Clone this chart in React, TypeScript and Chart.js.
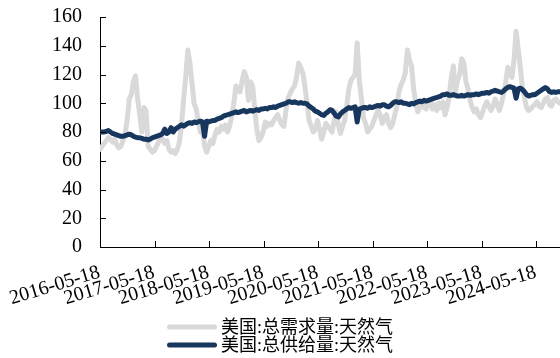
import React, { useEffect, useRef } from "react";
import { Chart, registerables } from "chart.js";

Chart.register(...registerables);

// ---- data ----
const START_DATE = "2016-05-18";
const STEP_DAYS = 14;

const tickLabels = [
  "2016-05-18", "2017-05-18", "2018-05-18", "2019-05-18", "2020-05-18",
  "2021-05-18", "2022-05-18", "2023-05-18", "2024-05-18",
];

const seriesNames = ["美国:总需求量:天然气", "美国:总供给量:天然气"];

// demand, biweekly from 2016-05-18
const demand2016 = [68, 70, 72, 74, 76, 75, 73, 75, 71, 69, 70, 74, 79, 88, 103, 106, 115, 119, 103, 92, 80, 97, 95, 70, 68, 66];
const demand2017 = [67, 70, 73, 76, 75, 72, 74, 68, 66, 67, 65, 68, 73, 85, 103, 118, 137, 128, 114, 100, 96, 88, 80, 83, 70, 66];
const demand2018 = [70, 74, 72, 78, 82, 80, 84, 82, 85, 80, 84, 91, 100, 112, 110, 108, 116, 122, 118, 102, 115, 112, 96, 82, 74, 76];
const demand2019 = [80, 87, 84, 86, 85, 88, 90, 92, 88, 85, 84, 96, 104, 107, 110, 112, 118, 128, 125, 121, 112, 100, 88, 84, 80, 82];
const demand2020 = [88, 82, 75, 80, 86, 84, 82, 80, 88, 94, 85, 79, 84, 88, 98, 110, 116, 118, 120, 142, 116, 104, 90, 86, 80, 82];
const demand2021 = [84, 88, 92, 95, 92, 86, 90, 92, 86, 83, 86, 92, 98, 108, 113, 116, 121, 137, 130, 126, 110, 100, 94, 97, 101, 97];
const demand2022 = [96, 100, 101, 96, 99, 95, 100, 97, 101, 92, 97, 105, 118, 126, 108, 116, 120, 131, 128, 115, 110, 102, 97, 94, 96, 92];
const demand2023 = [90, 94, 98, 101, 98, 95, 98, 103, 99, 95, 100, 106, 114, 125, 122, 118, 130, 150, 138, 125, 111, 104, 97, 95, 96, 98];
const demand2024 = [99, 101, 98, 97, 100, 103, 104, 99, 98, 102, 103, 101, 100];

// supply, biweekly from 2016-05-18
const supply2016 = [80, 80, 80, 80.5, 81, 80, 79, 78.5, 78, 77.5, 77, 77, 77.5, 78, 78.5, 78, 77, 76.5, 76, 76, 75.5, 75, 75, 74.5, 75, 76];
const supply2017 = [76.5, 77, 77.5, 78, 79, 82, 79, 80, 83, 80, 82, 83, 84, 85, 84, 85, 86, 86.5, 86, 87, 86.5, 87, 87.5, 87, 77, 87.5];
const supply2018 = [87, 87.5, 88, 88, 89, 89.5, 90, 91, 91.5, 92, 92.5, 93, 93.5, 94, 93.5, 94, 94.5, 95, 94, 94.5, 95, 94.5, 95, 95.5, 95, 96];
const supply2019 = [96, 96.5, 96, 97, 97, 97.5, 97, 98, 98.5, 99, 99.5, 100, 101, 101, 100.5, 101, 100.5, 100, 100.5, 100, 100, 99.5, 98, 97, 96, 94.5];
const supply2020 = [94, 93, 92, 91.5, 93, 94, 95.5, 95, 93, 91, 90.5, 92.5, 94, 95, 96, 97, 96.5, 97, 97.5, 87, 96, 96.5, 97, 97, 96.5, 97.5];
const supply2021 = [97, 97.5, 98, 98.5, 98, 99, 99, 98, 97.5, 98.5, 100, 101, 101, 100.5, 101, 100, 100, 99.5, 99, 100, 99.5, 100.5, 101, 101.5, 101, 102];
const supply2022 = [101.5, 102, 102.5, 103, 103.5, 104, 104.5, 105, 106, 106, 106.5, 105.5, 105.5, 106, 105.5, 105, 105, 105.5, 105, 105.5, 106, 105.5, 106, 106, 106.5, 106];
const supply2023 = [106.5, 107, 107, 107.5, 107, 108, 108.5, 109, 108.5, 108, 107.5, 108.5, 110, 111, 111.5, 111, 110.5, 103.5, 110, 110.5, 109.5, 108, 106, 105, 105.5, 106];
const supply2024 = [106, 107, 108, 109, 110, 111, 110, 108, 107.5, 108, 107.5, 108, 108];

const demand = [
  ...demand2016, ...demand2017, ...demand2018, ...demand2019, ...demand2020,
  ...demand2021, ...demand2022, ...demand2023, ...demand2024,
];
const supply = [
  ...supply2016, ...supply2017, ...supply2018, ...supply2019, ...supply2020,
  ...supply2021, ...supply2022, ...supply2023, ...supply2024,
];

const yTicks = { min: 0, max: 160, step: 20 };

const DAY_MS = 86400000;
const startMs = Date.parse(START_DATE);
const tickDays = tickLabels.map((d) => Math.round((Date.parse(d) - startMs) / DAY_MS));

const SERIF = '"Liberation Serif", "Times New Roman", "Noto Sans CJK SC", serif';
const COLORS = ["#d9d9d9", "#17375e"];
const X_ROT = (17 * Math.PI) / 180;

const axisDecorPlugin = {
  id: "axisDecor",
  afterDatasetsDraw(chart: any) {
    const { ctx, chartArea, scales } = chart;
    ctx.save();
    ctx.strokeStyle = "#000";
    ctx.lineWidth = 1;
    ctx.beginPath();
    const len = 6;
    scales.x.ticks.forEach((t: any) => {
      const px = Math.round(scales.x.getPixelForValue(t.value)) + 0.5;
      ctx.moveTo(px, chartArea.bottom);
      ctx.lineTo(px, chartArea.bottom - len);
    });
    scales.y.ticks.forEach((t: any) => {
      const py = Math.round(scales.y.getPixelForValue(t.value)) + 0.5;
      ctx.moveTo(chartArea.left, py);
      ctx.lineTo(chartArea.left + len, py);
    });
    ctx.stroke();

    // rotated x tick labels
    ctx.fillStyle = "#000";
    ctx.font = `20px ${SERIF}`;
    ctx.textAlign = "right";
    ctx.textBaseline = "alphabetic";
    scales.x.ticks.forEach((t: any, i: number) => {
      const px = scales.x.getPixelForValue(t.value);
      ctx.save();
      ctx.translate(px + 1, chartArea.bottom + 30);
      ctx.rotate(-X_ROT);
      ctx.fillText(tickLabels[i], 0, 0);
      ctx.restore();
    });
    ctx.restore();
  },
};

const legendPlugin = {
  id: "stackedLegend",
  afterDraw(chart: any) {
    const { ctx } = chart;
    const datasets = chart.data.datasets;
    ctx.save();
    ctx.font = `18px ${SERIF}`;
    const lineW = 50;
    const gap = 4;
    const widths = datasets.map((d: any) => lineW + gap + ctx.measureText(d.label).width);
    const maxW = Math.max(...widths);
    const left = Math.round((chart.width - maxW) / 2);
    datasets.forEach((ds: any, i: number) => {
      const y = chart.height - 31 + i * 18;
      ctx.strokeStyle = ds.borderColor;
      ctx.lineWidth = 5;
      ctx.lineCap = "round";
      ctx.beginPath();
      ctx.moveTo(left + 2.5, y);
      ctx.lineTo(left + lineW - 2.5, y);
      ctx.stroke();
      ctx.fillStyle = "#000";
      ctx.textAlign = "left";
      ctx.textBaseline = "middle";
      ctx.fillText(ds.label, left + lineW + gap, y + 1);
    });
    ctx.restore();
  },
};

export default function App() {
  const canvasRef = useRef<HTMLCanvasElement | null>(null);

  useEffect(() => {
    document.body.style.margin = "0";
    const canvas = canvasRef.current;
    if (!canvas) return;
    const lastDay = (demand.length - 1) * STEP_DAYS;
    const chart = new Chart(canvas, {
      type: "line",
      data: {
        datasets: [
          {
            label: seriesNames[0],
            data: demand.map((v, i) => ({ x: i * STEP_DAYS, y: v })),
            borderColor: COLORS[0],
            backgroundColor: COLORS[0],
            borderWidth: 5,
            pointRadius: 0,
            tension: 0,
            borderJoinStyle: "round",
            borderCapStyle: "round",
            order: 1,
          },
          {
            label: seriesNames[1],
            data: supply.map((v, i) => ({ x: i * STEP_DAYS, y: v })),
            borderColor: COLORS[1],
            backgroundColor: COLORS[1],
            borderWidth: 5,
            pointRadius: 0,
            tension: 0,
            borderJoinStyle: "round",
            borderCapStyle: "round",
            order: 0,
          },
        ],
      },
      options: {
        animation: false,
        responsive: false,
        maintainAspectRatio: false,
        layout: { padding: { left: 52, right: 0, top: 17, bottom: 0 } },
        plugins: {
          legend: { display: false },
          tooltip: { enabled: false },
        },
        scales: {
          x: {
            type: "linear",
            min: 0,
            max: lastDay,
            afterBuildTicks: (scale: any) => {
              scale.ticks = tickDays.map((v) => ({ value: v }));
            },
            afterFit: (scale: any) => {
              scale.height = 111;
              scale.paddingLeft = 0;
              scale.paddingRight = 0;
            },
            ticks: { display: false, autoSkip: false },
            grid: { display: true, drawOnChartArea: false, drawTicks: false },
            border: { display: true, color: "#000", width: 1 },
          },
          y: {
            min: yTicks.min,
            max: yTicks.max,
            afterFit: (scale: any) => {
              scale.width = 48;
              scale.paddingTop = 0;
              scale.paddingBottom = 0;
            },
            ticks: {
              stepSize: yTicks.step,
              autoSkip: false,
              padding: 18,
              color: "#000",
              font: { family: SERIF, size: 20 },
            },
            grid: { display: true, drawOnChartArea: false, drawTicks: false },
            border: { display: true, color: "#000", width: 1 },
          },
        },
      },
      plugins: [axisDecorPlugin, legendPlugin],
    });
    return () => chart.destroy();
  }, []);

  return (
    <div style={{ width: 560, height: 358 }}>
      <canvas ref={canvasRef} width={560} height={358} style={{ display: "block" }} />
    </div>
  );
}
